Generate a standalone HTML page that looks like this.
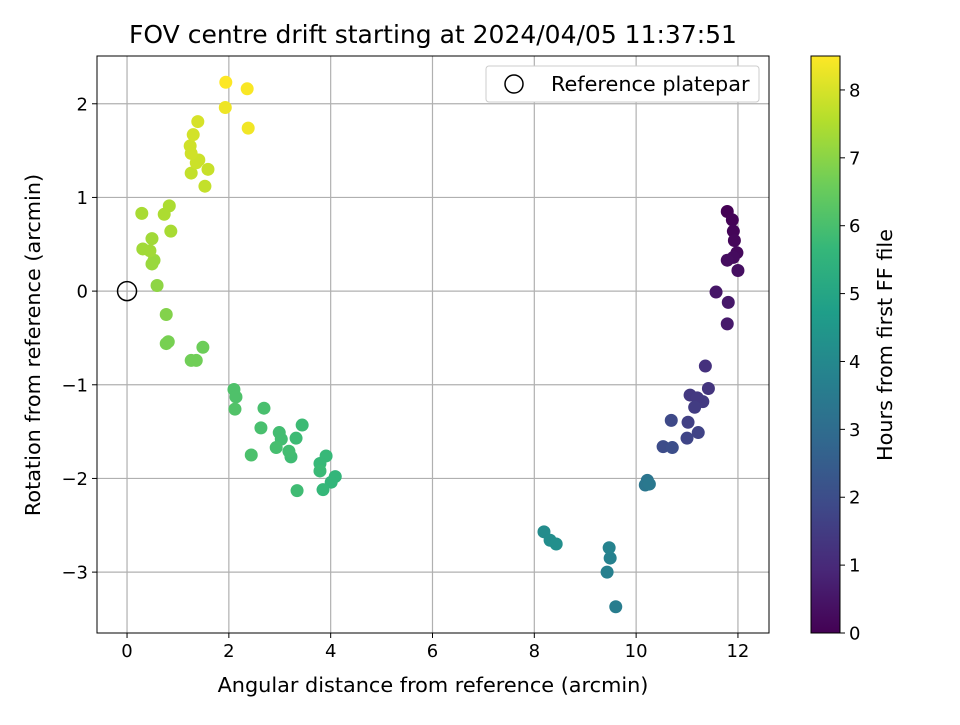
<!DOCTYPE html>
<html><head><meta charset="utf-8"><style>
body{margin:0;background:#fff;}
svg text{font-family:"DejaVu Sans","Liberation Sans",sans-serif;fill:#000;}
</style></head><body>
<svg id="chart" width="960" height="720" viewBox="0 0 960 720" xmlns="http://www.w3.org/2000/svg">
<rect width="960" height="720" fill="#fff"/>
<text x="433" y="43" font-size="25" text-anchor="middle">FOV centre drift starting at 2024/04/05 11:37:51</text>
<g id="grid"></g><g id="pts"></g>
<rect x="97" y="56" width="672" height="577" fill="none" stroke="#000" stroke-width="1"/>
<g id="axes"></g>
<text x="433" y="692" font-size="20.8" text-anchor="middle">Angular distance from reference (arcmin)</text>
<text transform="translate(40,345) rotate(-90)" font-size="20.8" text-anchor="middle">Rotation from reference (arcmin)</text>
<g>
<rect x="486" y="66" width="273" height="36" rx="3" fill="#fff" stroke="#ccc"/>
<circle cx="514" cy="84" r="9" fill="none" stroke="#000" stroke-width="1.5"/>
<text x="551" y="91" font-size="20.8">Reference platepar</text>
</g>
<defs><linearGradient id="vir" x1="0" y1="1" x2="0" y2="0"></linearGradient></defs>
<rect x="811" y="56" width="29" height="577" fill="url(#vir)" stroke="#000"/>
<g id="cbar"></g>
<text transform="translate(892,345) rotate(-90)" font-size="20.8" text-anchor="middle">Hours from first FF file</text>
</svg>
<script>
const xTicks=[0,2,4,6,8,10,12];
const yTicks=[-3,-2,-1,0,1,2];
const cTicks=[0,1,2,3,4,5,6,7,8];
const xs=[11.79,11.89,11.91,11.93,11.98,11.91,11.79,12.0,11.57,11.81,11.79,11.36,11.42,11.06,11.31,11.2,11.15,11.02,11.22,11.0,10.69,10.53,10.71,10.22,10.18,10.26,9.43,9.49,9.47,9.6,8.19,8.31,8.43,4.09,4.01,3.85,3.91,3.79,3.79,3.32,3.44,3.34,3.22,3.18,2.99,3.03,2.93,2.69,2.63,2.44,2.10,2.14,2.12,1.49,1.36,1.26,0.81,0.77,0.77,0.59,0.53,0.49,0.31,0.45,0.49,0.86,0.83,0.29,0.73,1.26,1.53,1.59,1.36,1.41,1.24,1.26,1.30,1.39,1.93,2.38,2.36,1.94];
const ys=[0.85,0.76,0.64,0.54,0.41,0.36,0.33,0.22,-0.01,-0.12,-0.35,-0.80,-1.04,-1.11,-1.18,-1.14,-1.24,-1.40,-1.51,-1.57,-1.38,-1.66,-1.67,-2.02,-2.07,-2.06,-3.0,-2.85,-2.74,-3.37,-2.57,-2.66,-2.70,-1.98,-2.04,-2.12,-1.76,-1.84,-1.92,-1.57,-1.43,-2.13,-1.77,-1.71,-1.51,-1.58,-1.67,-1.25,-1.46,-1.75,-1.05,-1.13,-1.26,-0.60,-0.74,-0.74,-0.54,-0.56,-0.25,0.06,0.33,0.29,0.45,0.43,0.56,0.64,0.91,0.83,0.82,1.26,1.12,1.30,1.37,1.40,1.55,1.47,1.67,1.81,1.96,1.74,2.16,2.23];
const hours=[0.0,0.05,0.1,0.15,0.2,0.25,0.3,0.35,0.5,0.55,0.6,1.2,1.3,1.4,1.45,1.42,1.5,1.6,1.7,1.75,1.85,1.95,2.0,3.3,3.35,3.4,3.7,3.75,3.8,3.6,4.1,4.15,4.2,5.6,5.6,5.65,5.7,5.7,5.75,5.8,5.8,5.85,5.85,5.9,5.9,5.9,5.95,6.0,6.0,6.05,6.1,6.1,6.15,6.6,6.65,6.65,6.75,6.75,6.9,7.05,7.2,7.2,7.3,7.3,7.3,7.4,7.45,7.4,7.45,7.75,7.75,7.8,7.85,7.85,7.9,7.9,7.95,8.0,8.3,8.35,8.45,8.5];
const X0=97,X1=769,Y0=56,Y1=633,xmin=-0.59,xmax=12.61,ymin=-3.65,ymax=2.51,cmax=8.5;
const sx=v=>X0+(v-xmin)/(xmax-xmin)*(X1-X0);
const sy=v=>Y1-(v-ymin)/(ymax-ymin)*(Y1-Y0);
const sc=v=>Y1-v/cmax*(Y1-Y0);
const vir=[[68,1,84],[72,40,120],[62,74,137],[49,104,142],[38,130,142],[31,158,137],[53,183,121],[109,205,89],[180,222,44],[253,231,37]];
function col(t){t=Math.max(0,Math.min(1,t))*9;const i=Math.min(8,Math.floor(t)),f=t-i;const a=vir[i],b=vir[i+1];return `rgb(${a.map((c,k)=>Math.round(c+(b[k]-c)*f)).join(',')})`;}
const NS="http://www.w3.org/2000/svg";
function mk(tag,attrs,parent){const e=document.createElementNS(NS,tag);for(const k in attrs)e.setAttribute(k,attrs[k]);parent.appendChild(e);return e;}
const grid=document.getElementById('grid'),axes=document.getElementById('axes'),pts=document.getElementById('pts'),cbar=document.getElementById('cbar');
const grad=document.getElementById('vir');
for(let i=0;i<=9;i++){mk('stop',{offset:(i/9),'stop-color':col(i/9)},grad);}
xTicks.forEach(t=>{const x=sx(t);
 const g=mk('line',{x1:x,x2:x,y1:Y0,y2:Y1,stroke:'#b0b0b0','stroke-width':1.2},grid);
 
 mk('line',{x1:x,x2:x,y1:Y1,y2:Y1+5,stroke:'#000'},axes);
 const tx=mk('text',{x:x,y:Y1+24,'font-size':18,'text-anchor':'middle'},axes);tx.textContent=t;
 });
yTicks.forEach(t=>{const y=sy(t);
 const g=mk('line',{x1:X0,x2:X1,y1:y,y2:y,stroke:'#b0b0b0','stroke-width':1.2},grid);
 
 mk('line',{x1:X0-5,x2:X0,y1:y,y2:y,stroke:'#000'},axes);
 const tx=mk('text',{x:X0-9,y:y+6.5,'font-size':18,'text-anchor':'end'},axes);tx.textContent=(t<0?'\u2212'+(-t):t);
 });
cTicks.forEach(t=>{const y=sc(t);
 mk('line',{x1:840,x2:845,y1:y,y2:y,stroke:'#000'},cbar);
 const tx=mk('text',{x:849,y:y+6.5,'font-size':18},cbar);tx.textContent=t;
 });
xs.forEach((v,i)=>{const c=mk('circle',{cx:sx(v),cy:sy(ys[i]),r:6.5,fill:col(hours[i]/cmax)},pts);
 });
const ref=mk('circle',{cx:sx(0),cy:sy(0),r:9.5,fill:'none',stroke:'#000','stroke-width':1.5},pts);

</script>
</body></html>
